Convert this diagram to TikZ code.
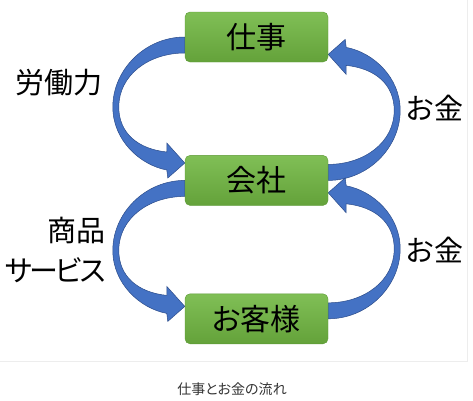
\documentclass[tikz,border=0pt]{standalone}
\usepackage{fontspec}
\setmainfont{Noto Sans CJK JP}[RawFeature=+palt]
\usepackage{tikz}
\usetikzlibrary{positioning,backgrounds}
\definecolor{boxtop}{HTML}{80BF56}
\definecolor{boxbot}{HTML}{64A23A}
\definecolor{boxline}{HTML}{5C9A36}
\definecolor{arrowblue}{HTML}{4472C4}
\definecolor{arrowline}{HTML}{2C4C8A}
\tikzset{
  box/.style={draw=boxline, top color=boxtop, bottom color=boxbot, rounded corners=5pt,
    minimum width=143pt, minimum height=50pt, inner sep=0pt, font=\fontsize{30}{36}\selectfont},
  lbl/.style={inner sep=0pt, font=\fontsize{29}{40}\selectfont},
  flowarrow/.pic={
    \filldraw[fill=arrowblue, draw=arrowline, line width=0.5pt] (0,8) .. controls (-40,8) and (-72,-25) .. (-72,-62)
      .. controls (-72,-95) and (-45,-120) .. (-18,-125) -- (-17,-133) -- (0,-118) -- (-18,-98) -- (-18,-107)
      .. controls (-47,-104) and (-66,-88) .. (-66,-62) .. controls (-66,-30) and (-36,-8) .. (0,-8) -- cycle;
  }
}
\begin{document}
\begin{tikzpicture}[x=1pt,y=1pt]
    \useasboundingbox (0,0) rectangle (473,-400);
    \draw[black!7] (0,-361) -- (467,-361) -- (467,0);
    \node[box] (shigoto) at (256.5,-37) {仕事};
    \node[box, below=93pt of shigoto] (kaisha) {会社};
    \node[box, below=88pt of kaisha] (kyaku) {お客様};
    \begin{scope}[on background layer]
      \pic at ([yshift=-8pt]shigoto.west) {flowarrow};
      \pic at ([yshift=-8pt]kaisha.west) {flowarrow};
      \pic[rotate=180] at ([yshift=8pt]kaisha.east) {flowarrow};
      \pic[rotate=180] at ([yshift=8pt]kyaku.east) {flowarrow};
    \end{scope}
    \node[lbl, anchor=east] (roudou) at (103,-83) {労働力};
    \node[lbl, anchor=east, align=right] (shohin) at (106,-250) {商品\\\addfontfeature{LetterSpace=-9}サービス};
    \node[lbl, anchor=west] (okane1) at (406,-108) {お金};
    \node[lbl, anchor=west] (okane2) at (406,-250) {お金};
    \node[font=\fontsize{14}{16}\selectfont, text=black!80] (caption) at (232,-389) {仕事とお金の流れ};
  \end{tikzpicture}
\end{document}
